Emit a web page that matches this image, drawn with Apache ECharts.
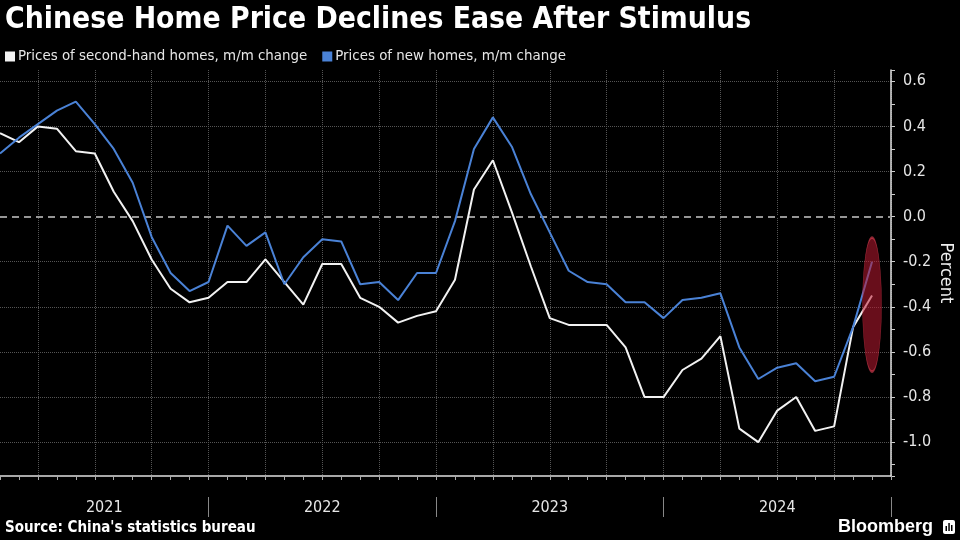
<!DOCTYPE html>
<html>
<head>
<meta charset="utf-8">
<script src="https://cdn.jsdelivr.net/npm/echarts@6/dist/echarts.min.js"></script>
<style>
  html, body { margin: 0; background: #000; }
  #chart { width: 960px; height: 540px; }
</style>
</head>
<body>
<div id="chart"></div>
<script>
const months = [
  "2021-01", "2021-02", "2021-03", "2021-04", "2021-05", "2021-06", "2021-07", "2021-08", "2021-09", "2021-10", "2021-11", "2021-12",
  "2022-01", "2022-02", "2022-03", "2022-04", "2022-05", "2022-06", "2022-07", "2022-08", "2022-09", "2022-10", "2022-11", "2022-12",
  "2023-01", "2023-02", "2023-03", "2023-04", "2023-05", "2023-06", "2023-07", "2023-08", "2023-09", "2023-10", "2023-11", "2023-12",
  "2024-01", "2024-02", "2024-03", "2024-04", "2024-05", "2024-06", "2024-07", "2024-08", "2024-09", "2024-10", "2024-11", "2024-12"
];
const years = ["2021", "2022", "2023", "2024"];

// m/m change, percent
const secondHand = [
  0.37, 0.33, 0.40, 0.39, 0.29, 0.28, 0.11, -0.02, -0.19, -0.32, -0.38, -0.36,
  -0.29, -0.29, -0.19, -0.29, -0.39, -0.21, -0.21, -0.36, -0.40, -0.47, -0.44, -0.42,
  -0.28, 0.12, 0.25, 0.02, -0.22, -0.45, -0.48, -0.48, -0.48, -0.58, -0.80, -0.80,
  -0.68, -0.63, -0.53, -0.94, -1.00, -0.86, -0.80, -0.95, -0.93, -0.49, -0.35
];
const newHomes = [
  0.28, 0.35, 0.41, 0.47, 0.51, 0.41, 0.30, 0.15, -0.09, -0.25, -0.33, -0.29,
  -0.04, -0.13, -0.07, -0.30, -0.18, -0.10, -0.11, -0.30, -0.29, -0.37, -0.25, -0.25,
  -0.02, 0.30, 0.44, 0.31, 0.10, -0.07, -0.24, -0.29, -0.30, -0.38, -0.38, -0.45,
  -0.37, -0.36, -0.34, -0.58, -0.72, -0.67, -0.65, -0.73, -0.71, -0.49, -0.20
];

// red highlight round the latest reading
const highlightMonth = "2024-11";
const highlightCenter = -0.39;

const FONT = "DejaVu Sans Condensed";
const WHITE = "#f2f2f2";
const BLUE = "#4a82d6";
const GRID = "#555";

// year label sits in the middle of the part of the year that is visible
const yearMid = {};
years.forEach(y => {
  const first = Math.max(months.indexOf(y + "-01") - 1, 0);
  const last = months.lastIndexOf(y + "-12");
  yearMid[(first + last) / 2] = y;
});

const chart = echarts.init(document.getElementById("chart"));

chart.setOption({
  backgroundColor: "#000",
  animation: false,
  textStyle: { fontFamily: FONT },
  title: [
    {
      text: "Chinese Home Price Declines Ease After Stimulus",
      left: 5, top: 5, padding: 0,
      textStyle: { color: "#fff", fontSize: 29.8, fontWeight: "bold", fontFamily: FONT }
    },
    {
      text: "Source: China's statistics bureau",
      left: 5, top: 521, padding: 0,
      textStyle: { color: "#fff", fontSize: 15, fontWeight: "bold", fontFamily: FONT }
    },
    {
      text: "Bloomberg",
      right: 27, top: 518, padding: 0,
      textStyle: { color: "#fff", fontSize: 18, fontWeight: "bold", fontFamily: "Liberation Sans" }
    }
  ],
  graphic: [
    {
      type: "group", right: 5, top: 520,
      children: [
        { type: "rect", shape: { x: 0, y: 0, width: 12, height: 14, r: 2 }, style: { fill: "#fff" } },
        { type: "rect", shape: { x: 2.5, y: 6, width: 1.5, height: 5 }, style: { fill: "#000" } },
        { type: "rect", shape: { x: 5.3, y: 3, width: 1.5, height: 8 }, style: { fill: "#000" } },
        { type: "rect", shape: { x: 8, y: 5, width: 1.5, height: 6 }, style: { fill: "#000" } }
      ]
    }
  ],
  legend: {
    left: 5, top: 49, padding: 0,
    icon: "rect", itemWidth: 10, itemHeight: 10, itemGap: 15,
    textStyle: { color: "#e6e6e6", fontSize: 14.9, fontFamily: FONT, padding: [0, 0, 0, -2] },
    data: ["Prices of second-hand homes, m/m change", "Prices of new homes, m/m change"]
  },
  grid: { left: 0, right: 69, top: 70, bottom: 64, containLabel: false, outerBoundsMode: "none" },
  xAxis: [
    {
      type: "category", data: months, boundaryGap: false,
      axisLine: { onZero: false, lineStyle: { color: "#e0e0e0", width: 1.5 } },
      axisTick: { show: true, interval: 0, length: 4, lineStyle: { color: "#aaa" } },
      axisLabel: { show: false },
      splitLine: {
        show: true,
        interval: (i, m) => Number(m.slice(5)) % 3 === 0,
        lineStyle: { color: GRID, type: "dotted" }
      }
    },
    {
      type: "category", data: months, boundaryGap: false, position: "bottom", offset: 21,
      axisLine: { show: false, onZero: false },
      axisTick: {
        show: true, length: 20,
        interval: (i, m) => m.endsWith("-12"),
        lineStyle: { color: "#888" }
      },
      axisLabel: { show: false },
      splitLine: { show: false }
    },
    {
      type: "value", min: 0, max: months.length - 1, interval: 0.5, position: "bottom",
      axisLine: { show: false, onZero: false }, axisTick: { show: false }, splitLine: { show: false },
      axisLabel: {
        color: "#e6e6e6", fontSize: 16, margin: 24,
        formatter: v => yearMid[Math.round(v * 2) / 2] || ""
      }
    }
  ],
  yAxis: {
    type: "value", position: "right", min: -1.15, max: 0.65, splitNumber: 9,
    axisLine: { show: true, onZero: false, lineStyle: { color: "#e0e0e0", width: 1.5 } },
    axisTick: { show: true, length: 4, lineStyle: { color: "#ccc" } },
    minorTick: { show: true, splitNumber: 2, length: 4, lineStyle: { color: "#ccc" } },
    axisLabel: {
      color: "#e6e6e6", fontSize: 16, margin: 12,
      showMinLabel: false, showMaxLabel: false,
      formatter: v => Math.abs(v * 5 - Math.round(v * 5)) > 1e-6 ? "" : v.toFixed(1)
    },
    splitLine: {
      show: true, showMinLine: false, showMaxLine: false,
      lineStyle: { color: GRID, type: "dotted" }
    },
    name: "Percent", nameLocation: "middle", nameRotate: -90, nameGap: 46,
    nameMoveOverlap: false,
    nameTextStyle: { color: "#eee", fontSize: 18, fontFamily: FONT }
  },
  series: [
    {
      name: "Prices of second-hand homes, m/m change",
      type: "line", data: secondHand, symbol: "none",
      itemStyle: { color: WHITE },
      lineStyle: { color: WHITE, width: 2 },
      // black underlay hides the dotted grid line under the dashed zero line
      markLine: {
        silent: true, symbol: "none", label: { show: false }, z: 1,
        lineStyle: { color: "#000", type: "solid", width: 2 },
        data: [{ yAxis: 0 }]
      }
    },
    {
      name: "Prices of new homes, m/m change",
      type: "line", data: newHomes, symbol: "none",
      itemStyle: { color: BLUE },
      lineStyle: { color: BLUE, width: 2 },
      markLine: {
        silent: true, symbol: "none", label: { show: false }, z: 2,
        lineStyle: { color: "#c8c8c8", type: [7, 5], width: 1.5 },
        data: [{ yAxis: 0 }]
      },
      markPoint: {
        silent: true,
        symbol: "circle", symbolSize: [19, 134],
        label: { show: false },
        itemStyle: { color: "rgba(190,25,50,0.55)", borderColor: "rgba(235,70,90,0.55)", borderWidth: 1 },
        data: [{ coord: [highlightMonth, highlightCenter] }]
      }
    }
  ]
});

window.addEventListener("resize", () => chart.resize());
</script>
</body>
</html>
